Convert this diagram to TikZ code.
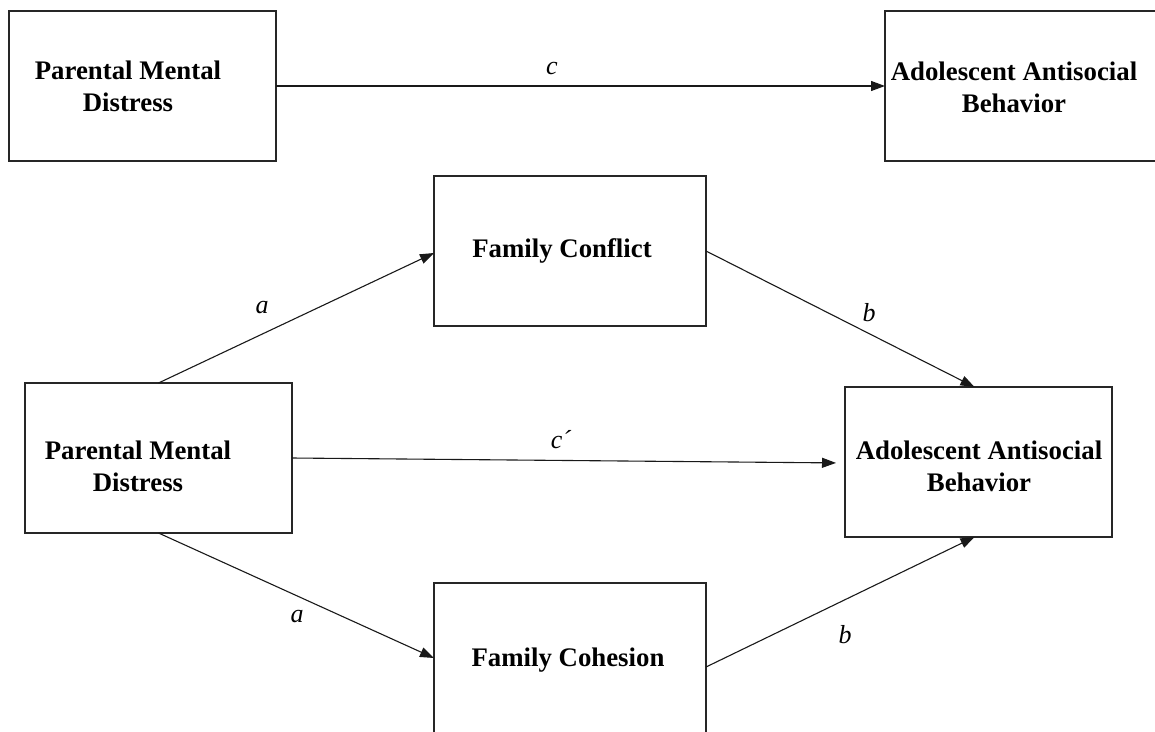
\documentclass[tikz,border=0pt]{standalone}
\usepackage{fontspec}
\setmainfont{Liberation Serif}
\usetikzlibrary{arrows.meta,calc}
\tikzset{
  boxnode/.style={draw=black!85,line width=1.3pt,inner sep=0pt,outer sep=0pt,rectangle},
  boxtext/.style={align=center,font=\fontsize{26.8}{32}\selectfont\bfseries,inner sep=0pt},
  pathlabel/.style={font=\fontsize{26}{30}\selectfont\itshape,inner sep=0pt},
  conn/.style={line width=1.1pt,draw=black!90,-{Triangle[length=14pt,width=10pt]}}
}
\begin{document}
\begin{tikzpicture}[x=1pt,y=-1pt]
\useasboundingbox (0,0) rectangle (1155,731);
% boxes
\node[boxnode,minimum width=267,minimum height=150] (pm1) at (142.5,86) {};
\node[boxnode,minimum width=275,minimum height=150] (ab1) at (1022.5,86) {};
\node[boxnode,minimum width=272,minimum height=150] (fc) at (570,251) {};
\node[boxnode,minimum width=267,minimum height=150] (pm2) at (158.5,458) {};
\node[boxnode,minimum width=267,minimum height=150] (ab2) at (978.5,462) {};
\node[boxnode,minimum width=272,minimum height=150] (fh) at (570,658) {};
% texts
\node[boxtext] (tpm1) at (128,86) {Parental Mental\\Distress};
\node[boxtext] (tab1) at (1014,87) {Adolescent Antisocial\\Behavior};
\node[boxtext] (tfc) at (562,251) {Family Conflict};
\node[boxtext] (tpm2) at (138,466) {Parental Mental\\Distress};
\node[boxtext] (tab2) at (979,466) {Adolescent Antisocial\\Behavior};
\node[boxtext] (tfh) at (568,660) {Family Cohesion};
% connectors
\draw[conn] (pm1.east) -- (ab1.west);
\draw[conn] (pm2.north) -- ($(fc.west)+(0,2)$);
\draw[conn] (pm2.south) -- (fh.west);
\draw[conn,shorten >=9pt] (pm2.east) -- ($(ab2.west)+(0,1)$);
\draw[conn] (fc.east) -- ($(ab2.north)+(-4,0)$);
\draw[conn] ($(fh.east)+(0,9)$) -- ($(ab2.south)+(-4,0)$);
% labels
\node[pathlabel] (lc) at (552,68) {c};
\node[pathlabel] (lcp) at (561,440) {c´};
\node[pathlabel] (la1) at (262,308) {a};
\node[pathlabel] (lb1) at (869,313) {b};
\node[pathlabel] (la2) at (297,617) {a};
\node[pathlabel] (lb2) at (845,635) {b};
\end{tikzpicture}
\end{document}
